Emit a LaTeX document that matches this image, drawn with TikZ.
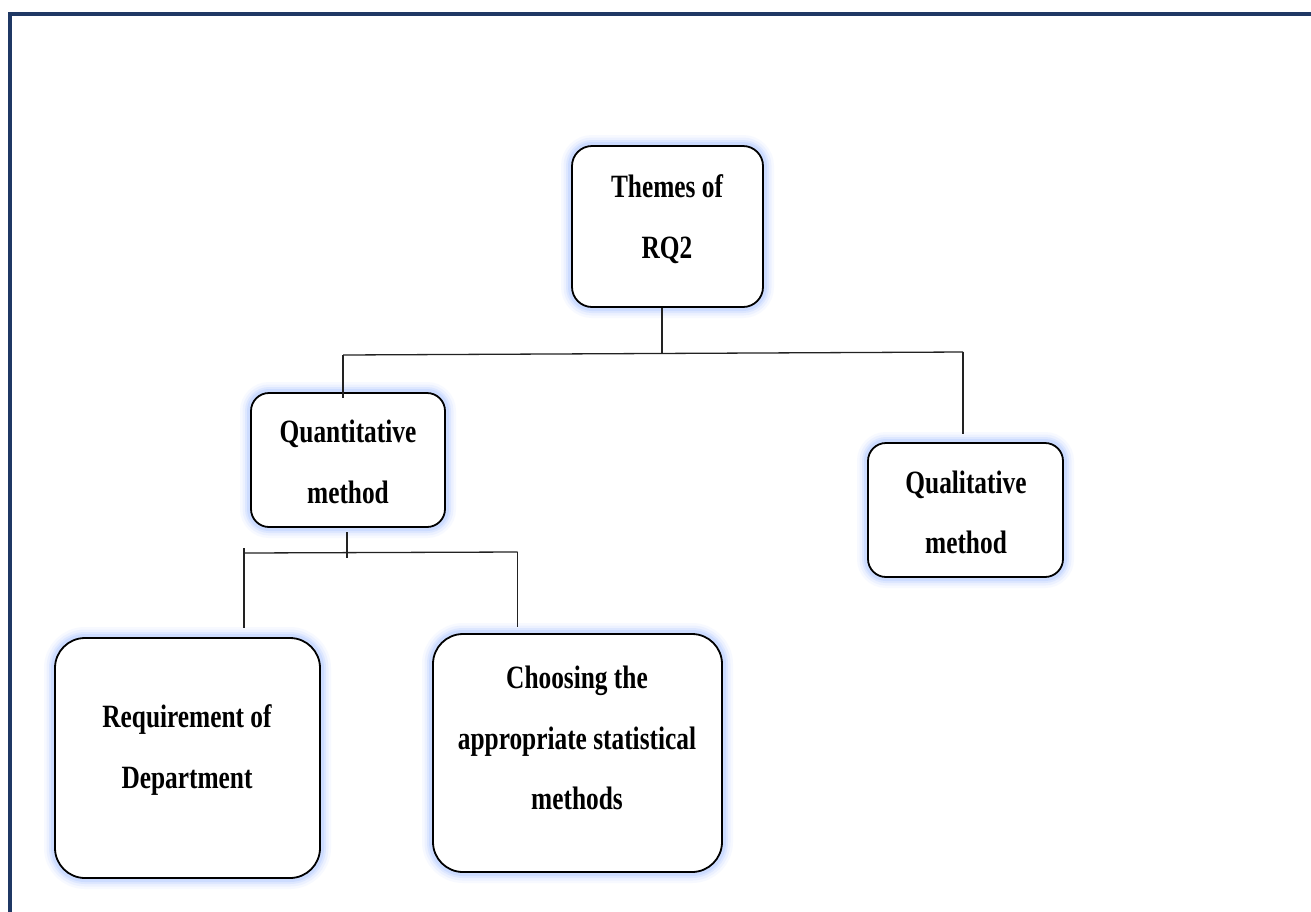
\documentclass[tikz,border=0pt]{standalone}
\usepackage{fontspec}
\setmainfont[FakeStretch=0.78]{Liberation Serif}
\definecolor{navy}{HTML}{1F3864}
\definecolor{glow}{HTML}{9EBEFF}
\definecolor{linkc}{HTML}{222222}
\tikzset{
  box/.style={draw=black, line width=1.8pt, fill=white, rounded corners=#1,
    inner sep=0pt,
    preaction={draw=glow, line width=22pt, draw opacity=0.08},
    preaction={draw=glow, line width=17pt, draw opacity=0.12},
    preaction={draw=glow, line width=12pt, draw opacity=0.18},
    preaction={draw=glow, line width=8pt, draw opacity=0.25}},
  box/.default=20pt,
  txt/.style={anchor=base, inner sep=0pt, font=\fontsize{32.5}{38}\selectfont\bfseries},
  link/.style={draw=linkc, line width=1.3pt},
  frame/.style={draw=navy, line width=4pt}
}
\begin{document}
\begin{tikzpicture}[x=1pt, y=-1pt]
\useasboundingbox (0,0) rectangle (1311,911);
\clip (0,0) rectangle (1311,911);
\fill[white] (0,0) rectangle (1311,911);

% page frame (runs off the right and bottom edges)
\draw[frame] (9.5,13.5) rectangle (1340,940);

% boxes
\node[box=20pt, minimum width=191pt, minimum height=161pt] (themes) at (667.5,226.5) {};
\node[box=18pt, minimum width=194pt, minimum height=134pt] (quant) at (348,460) {};
\node[box=18pt, minimum width=195pt, minimum height=134pt] (qual) at (965.5,510) {};
\node[box=30pt, minimum width=265pt, minimum height=240pt] (req) at (187.5,758) {};
\node[box=30pt, minimum width=289pt, minimum height=238pt] (choose) at (577.5,753) {};

% labels
\node[txt] (themesA) at (667,197) {Themes of};
\node[txt] (themesB) at (667,258) {RQ2};
\node[txt] (quantA) at (348,442) {Quantitative};
\node[txt] (quantB) at (348,503) {method};
\node[txt] (qualA) at (966,493) {Qualitative};
\node[txt] (qualB) at (966,553) {method};
\node[txt] (reqA) at (187,727) {Requirement of};
\node[txt] (reqB) at (187,788) {Department};
\node[txt] (chooseA) at (577,688) {Choosing the};
\node[txt] (chooseB) at (577,749) {appropriate statistical};
\node[txt] (chooseC) at (577,809) {methods};

% junction points of the connectors
\coordinate (bus1) at (662,354);
\coordinate (bus1w) at (343,355);
\coordinate (bus1e) at (963,352);
\coordinate (stem2) at (347,532);
\coordinate (bus2) at (347,558);
\coordinate (bus2w) at (244,553);
\coordinate (bus2wtop) at (244,548);
\coordinate (bus2e) at (517.5,552);

% first level
\draw[link] (themes.south -| bus1) -- (bus1);
\draw[link] (bus1w) -- (bus1e);
\draw[link] (bus1w) -- ([yshift=-6pt]bus1w |- quant.north);
\draw[link] (bus1e) -- ([yshift=8pt]bus1e |- qual.north);

% second level
\draw[link] (stem2) -- (bus2);
\draw[link] (bus2w) -- (bus2e);
\draw[link] (bus2wtop) -- ([yshift=9pt]bus2wtop |- req.north);
\draw[link] (bus2e) -- ([yshift=6pt]bus2e |- choose.north);
\end{tikzpicture}
\end{document}
